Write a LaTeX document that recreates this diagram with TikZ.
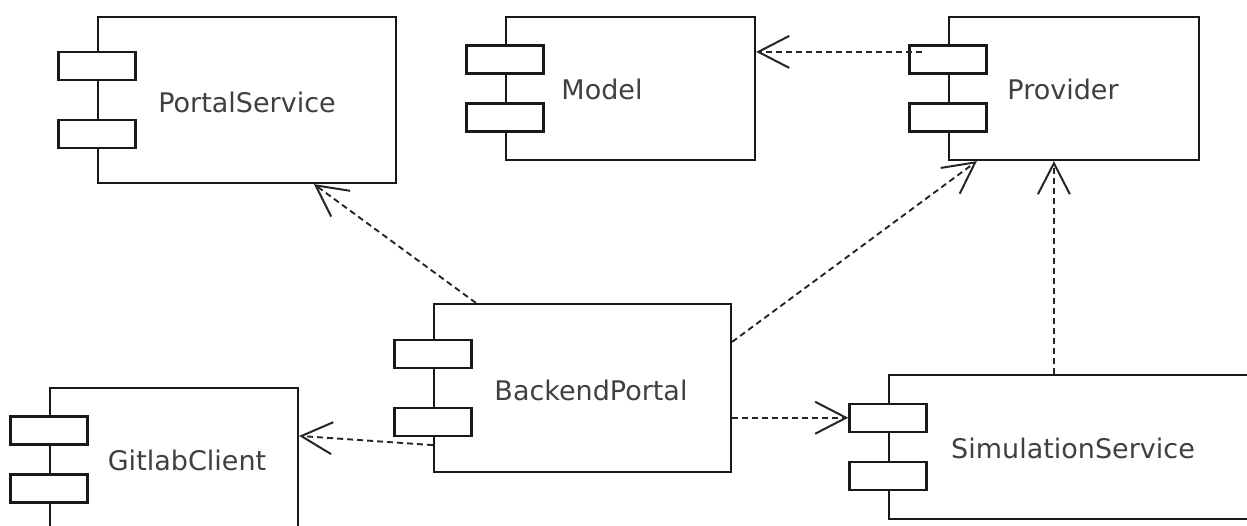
\documentclass[tikz,border=0pt]{standalone}
\usepackage{fontspec}
\setmainfont{DejaVu Sans}
\usetikzlibrary{arrows.meta,calc}

\begin{document}
\begin{tikzpicture}[x=1pt, y=-1pt,
  comp/.style={rectangle, draw=black!90, line width=2.2pt, fill=white,
               inner sep=0pt},
  tabbox/.style={rectangle, draw=black!90, line width=2.2pt, fill=white,
                 inner sep=0pt, minimum width=77pt, minimum height=28pt},
  lbl/.style={anchor=base, inner sep=0pt, text=black!75,
              font=\fontsize{27pt}{32pt}\selectfont},
  dep/.style={-{Straight Barb[length=31pt, width=32pt, line width=2pt]},
              dash pattern=on 6pt off 4pt, line width=1.9pt, draw=black!85}
]
\useasboundingbox (0,0) rectangle (1247,526);
\clip (0,0) rectangle (1247,526);

% component bodies
\node[comp, minimum width=298pt, minimum height=166pt] (ps) at (247,100) {};
\node[comp, minimum width=249pt, minimum height=143pt] (mo) at (630.5,88.5) {};
\node[comp, minimum width=250pt, minimum height=143pt] (pr) at (1074,88.5) {};
\node[comp, minimum width=248pt, minimum height=143pt] (gc) at (174,459.5) {};
\node[comp, minimum width=297pt, minimum height=168pt] (bp) at (582.5,388) {};
\node[comp, minimum width=370pt, minimum height=144pt] (ss) at (1074,447) {};

% tabs
\node[tabbox] (ps-t1) at ($(ps.north west)!0.3!(ps.south west)$) {};
\node[tabbox] (ps-t2) at ($(ps.north west)!0.7!(ps.south west)$) {};
\node[tabbox] (mo-t1) at ($(mo.north west)!0.3!(mo.south west)$) {};
\node[tabbox] (mo-t2) at ($(mo.north west)!0.7!(mo.south west)$) {};
\node[tabbox] (pr-t1) at ($(pr.north west)!0.3!(pr.south west)$) {};
\node[tabbox] (pr-t2) at ($(pr.north west)!0.7!(pr.south west)$) {};
\node[tabbox] (gc-t1) at ($(gc.north west)!0.3!(gc.south west)$) {};
\node[tabbox] (gc-t2) at ($(gc.north west)!0.7!(gc.south west)$) {};
\node[tabbox] (bp-t1) at ($(bp.north west)!0.3!(bp.south west)$) {};
\node[tabbox] (bp-t2) at ($(bp.north west)!0.7!(bp.south west)$) {};
\node[tabbox] (ss-t1) at ($(ss.north west)!0.3!(ss.south west)$) {};
\node[tabbox] (ss-t2) at ($(ss.north west)!0.7!(ss.south west)$) {};

% names
\node[lbl] (ps-l) at (247,113) {PortalService};
\node[lbl] (mo-l) at (602,100) {Model};
\node[lbl] (pr-l) at (1063,100) {Provider};
\node[lbl] (gc-l) at (187,470) {GitlabClient};
\node[lbl] (bp-l) at (591,400) {BackendPortal};
\node[lbl] (ss-l) at (1073,458) {SimulationService};

% dependencies
\coordinate (pr-out) at ($(pr.north west)+(-26,36)$);
\draw[dep] (pr-out) -- (mo.east |- pr-out);
\draw[dep] ($(bp.north west)+(43,0)$) -- ($(ps.south west)+(217,0)$);
\draw[dep] ($(bp.north east)+(0,39)$) -- ($(pr.south west)+(29,0)$);
\coordinate (ss-out) at ($(ss.north west)+(166,0)$);
\draw[dep] (ss-out) -- (ss-out |- pr.south);
\draw[dep] (ss-t1.west -| bp.east) -- (ss-t1.west);
\draw[dep] ($(bp.south west)+(0,-28)$) -- ($(gc.north east)+(0,49)$);
\end{tikzpicture}
\end{document}
